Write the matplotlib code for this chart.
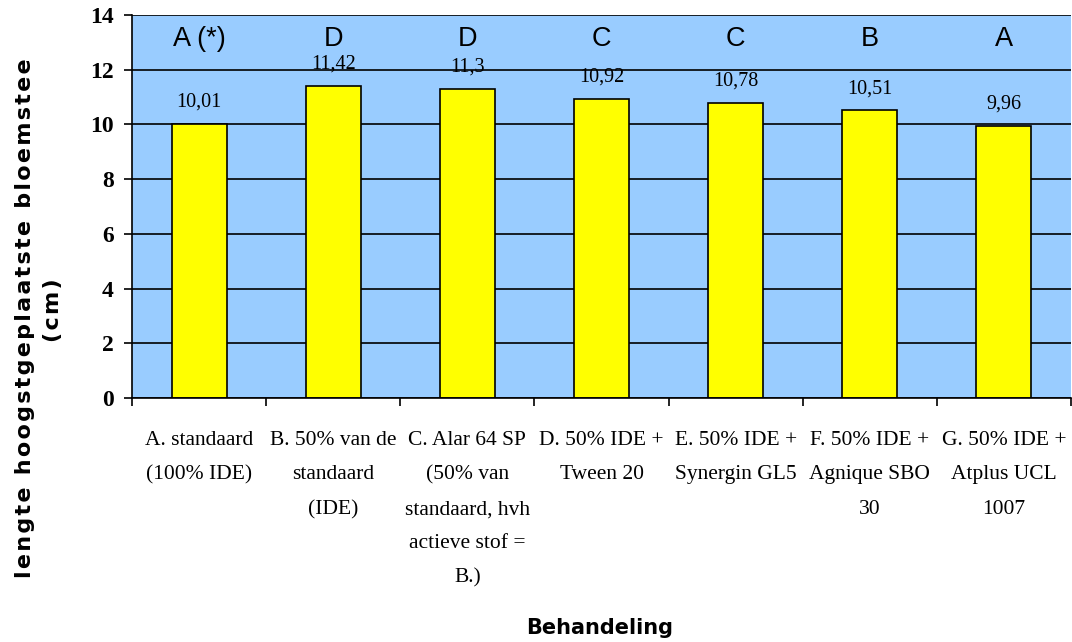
import matplotlib
matplotlib.use("Agg")
import matplotlib.pyplot as plt
from matplotlib.ticker import FixedLocator, NullFormatter

# Treatments, mean flower-stem length and significance groups
categories = [
    "A. standaard\n(100% IDE)",
    "B. 50% van de\nstandaard\n(IDE)",
    "C. Alar 64 SP\n(50% van\nstandaard, hvh\nactieve stof =\nB.)",
    "D. 50% IDE +\nTween 20",
    "E. 50% IDE +\nSynergin GL5",
    "F. 50% IDE +\nAgnique SBO\n30",
    "G. 50% IDE +\nAtplus UCL\n1007",
]
lengths = [10.01, 11.42, 11.3, 10.92, 10.78, 10.51, 9.96]
groups = ["A (*)", "D", "D", "C", "C", "B", "A"]
y_ticks = [0, 2, 4, 6, 8, 10, 12, 14]

SERIF = "Liberation Serif"
SANS = "Liberation Sans"

fig = plt.figure(figsize=(10.72, 6.42), dpi=100)
ax = fig.add_axes([132 / 1072, 1 - 398 / 642, (1071 - 132) / 1072, (398 - 15) / 642])
ax.set_facecolor("#99CCFF")

x = list(range(len(categories)))
ax.set_xlim(-0.5, len(categories) - 0.5)
ax.set_ylim(0, 14)

# horizontal gridlines at each y tick
for yv in y_ticks:
    ax.axhline(yv, color="black", linewidth=1.2, zorder=1)

ax.bar(x, lengths, width=0.41, color="#FFFF00", edgecolor="black",
       linewidth=1.2, zorder=2)

for xi, v, g in zip(x, lengths, groups):
    ax.text(xi, v + 0.8, f"{v:g}".replace(".", ","), ha="center", va="center",
            fontsize=14.5, family=SERIF, zorder=3)
    ax.text(xi, 13.14, g, ha="center", va="center", fontsize=19.5,
            family=SANS, zorder=3)

for side in ("top", "right"):
    ax.spines[side].set_visible(False)
ax.spines["left"].set_linewidth(1.2)
ax.spines["bottom"].set_linewidth(1.2)

ax.set_yticks(y_ticks)
ax.set_yticklabels([str(t) for t in y_ticks], fontsize=17,
                   family=SERIF, fontweight="bold")
ax.tick_params(axis="y", length=6, width=1.2, pad=7)

ax.set_xticks(x)
ax.set_xticklabels(categories, fontsize=15.5, family=SERIF, linespacing=2.08,
                   va="top")
ax.tick_params(axis="x", which="major", length=0, pad=24)
ax.xaxis.set_minor_locator(FixedLocator([i - 0.5 for i in range(len(categories) + 1)]))
ax.xaxis.set_minor_formatter(NullFormatter())
ax.tick_params(axis="x", which="minor", length=6, width=1.2)

# axis titles
hs = "\u200a"
ylab1 = hs.join("lengte hoogstgeplaatste bloemstee")
ylab2 = hs.join("(cm)")
fig.text(25 / 1072, 1 - 318 / 642, ylab1, rotation=90, ha="center", va="center",
         fontsize=16, fontweight="bold", family="DejaVu Sans")
fig.text(53 / 1072, 1 - 310 / 642, ylab2, rotation=90, ha="center", va="center",
         fontsize=16, fontweight="bold", family="DejaVu Sans")
fig.text(600 / 1072, 1 - 628 / 642, "Behandeling", ha="center", va="center",
         fontsize=15, fontweight="bold", family="DejaVu Sans")

fig.savefig("out.png", dpi=100)
